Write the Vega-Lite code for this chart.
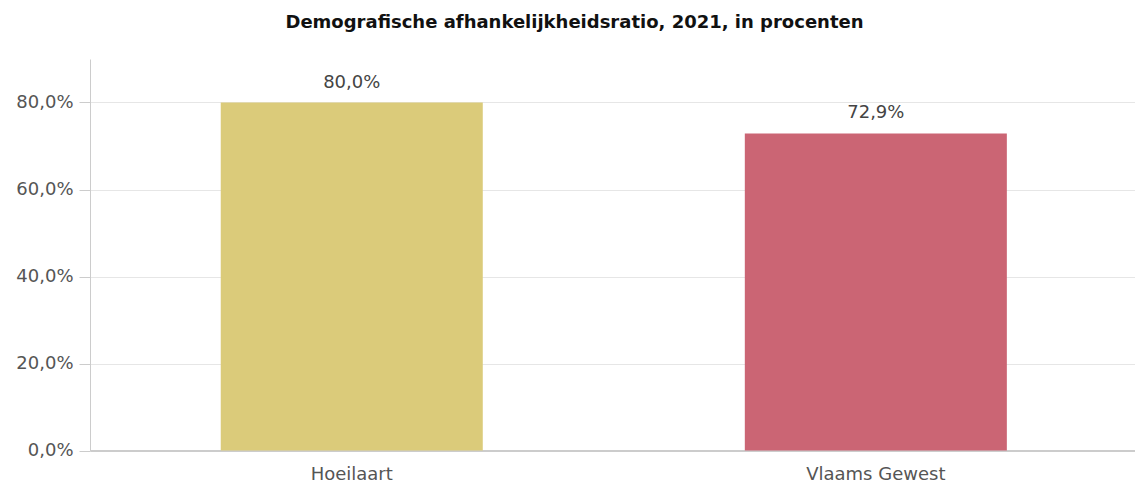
{
  "$schema": "https://vega.github.io/schema/vega-lite/v6.json",
  "autosize": "none",
  "padding": {"left": 90, "top": 59, "right": 0, "bottom": 33.5},
  "width": 1045,
  "height": 391.5,
  "background": "white",
  "config": {
    "locale": {"number": {"decimal": ",", "thousands": ".", "grouping": [3], "currency": ["€", ""]}},
    "view": {"stroke": null},
    "font": "DejaVu Sans"
  },
  "title": {
    "text": "Demografische afhankelijkheidsratio, 2021, in procenten",
    "fontSize": 18,
    "fontWeight": "bold",
    "color": "#111111",
    "anchor": "middle",
    "baseline": "alphabetic",
    "offset": 13,
    "dx": -38,
    "font": "DejaVu Sans"
  },
  "data": {
    "values": [
      {"gebied": "Hoeilaart", "ratio": 0.8},
      {"gebied": "Vlaams Gewest", "ratio": 0.729}
    ]
  },
  "encoding": {
    "x": {
      "field": "gebied",
      "type": "nominal",
      "sort": null,
      "scale": {"paddingInner": 0.5, "paddingOuter": 0.247, "align": 0.505},
      "axis": {
        "title": null,
        "labelAngle": 0,
        "labelFont": "DejaVu Sans",
        "labelFontSize": 18,
        "labelColor": "#555555",
        "labelPadding": 15,
        "ticks": false,
        "domainColor": "#cccccc",
        "domainWidth": 2,
        "grid": false
      }
    },
    "y": {
      "field": "ratio",
      "type": "quantitative",
      "scale": {"domain": [0, 0.9], "nice": false},
      "axis": {
        "title": null,
        "values": [0, 0.2, 0.4, 0.6, 0.8],
        "format": ".1%",
        "labelFont": "DejaVu Sans",
        "labelFontSize": 18,
        "labelColor": "#555555",
        "labelPadding": 6,
        "tickSize": 11,
        "tickColor": "#cccccc",
        "domainColor": "#cccccc",
        "gridColor": "#e6e6e6"
      }
    }
  },
  "layer": [
    {
      "mark": {"type": "bar"},
      "encoding": {
        "color": {
          "field": "gebied",
          "type": "nominal",
          "scale": {"domain": ["Hoeilaart", "Vlaams Gewest"], "range": ["#dbcb7a", "#cb6574"]},
          "legend": null
        }
      }
    },
    {
      "mark": {"type": "text", "baseline": "alphabetic", "dy": -15, "fontSize": 18, "color": "#444444", "font": "DejaVu Sans"},
      "encoding": {
        "text": {"field": "ratio", "type": "quantitative", "format": ".1%"}
      }
    }
  ]
}
